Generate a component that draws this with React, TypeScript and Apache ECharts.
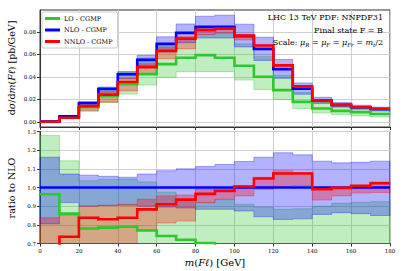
import React, { useEffect, useRef } from 'react';
import * as echarts from 'echarts';

// bin edges of m(Fl) in GeV
const binEdges = [0, 10, 20, 30, 40, 50, 60, 70, 80, 90, 100, 110, 120, 130, 140, 150, 160, 170, 180];
// NLO central cross section, pb/GeV
const nloXsec = [0.0003, 0.0051, 0.0168, 0.0293, 0.0424, 0.0552, 0.0694, 0.0792, 0.0845, 0.0845, 0.0763, 0.0648, 0.0468, 0.0295, 0.0192, 0.0152, 0.0131, 0.0115];
// ratios to NLO central
const loRatio = [0.964, 0.86, 0.78, 0.785, 0.79, 0.77, 0.74, 0.72, 0.703, 0.675, 0.655, 0.62, 0.605, 0.605, 0.625, 0.645, 0.665, 0.615];
const nnloRatio = [0.62, 0.736, 0.838, 0.83, 0.838, 0.883, 0.91, 0.935, 0.966, 0.982, 1.005, 1.048, 1.075, 1.075, 0.991, 0.998, 1.009, 1.023];
// scale-uncertainty bands, as ratios to NLO central
const loBandHi = [1.279, 1.143, 1.036, 1.043, 1.045, 1.03, 0.975, 0.93, 0.92, 0.935, 0.91, 0.895, 0.883, 0.886, 0.9, 0.915, 0.92, 0.924];
const loBandLo = [0.6, 0.58, 0.56, 0.59, 0.585, 0.594, 0.571, 0.564, 0.529, 0.529, 0.488, 0.446, 0.427, 0.406, 0.42, 0.44, 0.41, 0.39];
const nloBandHi = [1.162, 1.072, 1.066, 1.06, 1.055, 1.072, 1.09, 1.1, 1.112, 1.123, 1.139, 1.162, 1.186, 1.175, 1.141, 1.132, 1.135, 1.141];
const nloBandLo = [0.805, 0.919, 0.9, 0.904, 0.905, 0.9, 0.895, 0.89, 0.883, 0.883, 0.874, 0.843, 0.829, 0.832, 0.856, 0.865, 0.86, 0.85];
const nnloBandHi = [0.838, 0.85, 0.9, 0.905, 0.91, 0.937, 0.955, 0.96, 0.99, 1.0, 1.01, 1.055, 1.09, 1.08, 0.995, 1.0, 1.01, 1.03];
const nnloBandLo = [0.5, 0.6, 0.6, 0.6, 0.65, 0.775, 0.81, 0.82, 0.919, 0.937, 0.955, 0.99, 1.005, 1.01, 0.933, 0.955, 0.97, 0.973];

const seriesNames = ['LO - CGMP', 'NLO - CGMP', 'NNLO - CGMP'];
const xTicks = { min: 0, max: 180, interval: 20 };
const topY = { min: -0.0045, max: 0.0995 };
const topYTicks = [0, 0.02, 0.04, 0.06, 0.08];
const ratioY = { min: 0.7, max: 1.3, interval: 0.1 };

const GREEN = '#2ec82e';
const BLUE = '#0000ff';
const RED = '#ff0000';
const SERIF = '"DejaVu Serif", "Liberation Serif", serif';

const nloRatio = nloXsec.map((v) => v / v);
const toAbs = (r: number[]) => r.map((v, i) => v * nloXsec[i]);

const stepData = (vals: number[]) =>
  binEdges.map((x, i) => [x, vals[Math.min(i, vals.length - 1)]]);

function bandSeries(lo: number[], hi: number[], fill: string, edge: string, axis: number, yMin: number, yMax: number) {
  const clamp = (v: number) => Math.max(yMin, Math.min(yMax, v));
  return {
    type: 'custom',
    xAxisIndex: axis,
    yAxisIndex: axis,
    silent: true,
    z: 1,
    data: [[0, 0]],
    renderItem: (_params: any, api: any) => {
      const top: number[][] = [];
      const bot: number[][] = [];
      for (let i = 0; i < lo.length; i++) {
        const h = clamp(hi[i]);
        const l = clamp(lo[i]);
        top.push(api.coord([binEdges[i], h]), api.coord([binEdges[i + 1], h]));
        bot.push(api.coord([binEdges[i], l]), api.coord([binEdges[i + 1], l]));
      }
      return {
        type: 'polygon',
        shape: { points: top.concat(bot.reverse()) },
        style: { fill, stroke: edge, lineWidth: 0.8 },
      };
    },
  };
}

function lineSeries(name: string, vals: number[], color: string, axis: number, z: number) {
  return {
    type: 'line',
    name,
    xAxisIndex: axis,
    yAxisIndex: axis,
    step: 'end',
    data: stepData(vals),
    showSymbol: false,
    symbol: 'none',
    clip: true,
    z,
    lineStyle: { color, width: 2.6, join: 'miter' },
    itemStyle: { color },
  };
}

const gridLine = { show: true, lineStyle: { color: '#cfcfcf', width: 1 } };

export default function App() {
  const ref = useRef<HTMLDivElement>(null);
  useEffect(() => {
    if (!ref.current) return;
    const chart = echarts.init(ref.current, undefined, { renderer: 'svg' });
    const option: any = {
      animation: false,
      backgroundColor: '#ffffff',
      grid: [
        { left: 40, width: 350, top: 10, height: 117, show: true, borderColor: '#333', borderWidth: 1, backgroundColor: 'transparent' },
        { left: 40, width: 350, top: 131.5, height: 112, show: true, borderColor: '#333', borderWidth: 1, backgroundColor: 'transparent' },
      ],
      xAxis: [0, 1].map((g) => ({
        type: 'value',
        gridIndex: g,
        min: xTicks.min,
        max: xTicks.max,
        interval: xTicks.interval,
        axisLine: { show: true, onZero: false, lineStyle: { color: '#333', width: 1 } },
        axisTick: { show: true, inside: false, length: 3, lineStyle: { color: '#333' } },
        axisLabel: {
          show: g === 1,
          fontFamily: SERIF,
          fontSize: 5.5,
          color: '#000',
          margin: 4,
        },
        splitLine: gridLine,
      })),
      yAxis: [
        {
          type: 'value',
          gridIndex: 0,
          min: topY.min,
          max: topY.max,
          axisLine: { show: true, lineStyle: { color: '#333' } },
          axisTick: { show: true, length: 3, lineStyle: { color: '#333' }, customValues: topYTicks },
          axisLabel: {
            customValues: topYTicks,
            formatter: (v: number) => v.toFixed(2),
            fontFamily: SERIF,
            fontSize: 5.5,
            color: '#000',
            margin: 4,
          },
          splitLine: gridLine,
        },
        {
          type: 'value',
          gridIndex: 1,
          min: ratioY.min,
          max: ratioY.max,
          interval: ratioY.interval,
          axisLine: { show: true, lineStyle: { color: '#333' } },
          axisTick: { show: true, length: 3, lineStyle: { color: '#333' } },
          axisLabel: { formatter: (v: number) => v.toFixed(1), fontFamily: SERIF, fontSize: 5.5, color: '#000', margin: 4 },
          splitLine: gridLine,
        },
      ],
      legend: {
        data: seriesNames.map((n) => ({ name: n, icon: 'rect' })),
        orient: 'vertical',
        left: 42,
        top: 12,
        itemWidth: 15,
        itemHeight: 3,
        itemGap: 4.5,
        padding: [3, 5, 3, 3],
        backgroundColor: 'rgba(255,255,255,0.85)',
        borderColor: '#cccccc',
        borderWidth: 1,
        borderRadius: 2,
        textStyle: { fontFamily: SERIF, fontSize: 6.5, color: '#000', padding: [0, 0, 0, -1] },
        selectedMode: false,
        z: 20,
      },
      series: [
        bandSeries(toAbs(loBandLo), toAbs(loBandHi), 'rgba(46,200,46,0.3)', 'rgba(46,200,46,0.45)', 0, topY.min, topY.max),
        bandSeries(toAbs(nloBandLo), toAbs(nloBandHi), 'rgba(0,0,255,0.3)', 'rgba(0,0,255,0.4)', 0, topY.min, topY.max),
        bandSeries(toAbs(nnloBandLo), toAbs(nnloBandHi), 'rgba(255,0,0,0.3)', 'rgba(255,0,0,0.4)', 0, topY.min, topY.max),
        lineSeries(seriesNames[0], toAbs(loRatio), GREEN, 0, 2),
        lineSeries(seriesNames[1], nloXsec, BLUE, 0, 3),
        lineSeries(seriesNames[2], toAbs(nnloRatio), RED, 0, 4),
        bandSeries(loBandLo, loBandHi, 'rgba(46,200,46,0.3)', 'rgba(46,200,46,0.45)', 1, ratioY.min, ratioY.max),
        bandSeries(nloBandLo, nloBandHi, 'rgba(0,0,255,0.3)', 'rgba(0,0,255,0.4)', 1, ratioY.min, ratioY.max),
        bandSeries(nnloBandLo, nnloBandHi, 'rgba(255,0,0,0.3)', 'rgba(255,0,0,0.4)', 1, ratioY.min, ratioY.max),
        lineSeries(seriesNames[0], loRatio, GREEN, 1, 2),
        lineSeries(seriesNames[1], nloRatio, BLUE, 1, 3),
        lineSeries(seriesNames[2], nnloRatio, RED, 1, 4),
      ],
      graphic: [
        {
          type: 'text',
          right: 24,
          top: 13,
          z: 30,
          style: { text: 'LHC 13 TeV PDF: NNPDF31', fontFamily: SERIF, fontSize: 8, fill: '#000', textAlign: 'right' },
        },
        {
          type: 'text',
          right: 24,
          top: 26.5,
          z: 30,
          style: { text: 'Final state F = B', fontFamily: SERIF, fontSize: 8, fill: '#000', textAlign: 'right' },
        },
        {
          type: 'text',
          right: 24,
          top: 38,
          z: 30,
          style: {
            text: '{n|Scale: }{i|μ}{s|R}{n| = }{i|μ}{s|F}{n| = }{i|μ}{s|Fr}{n| = }{i|m}{s|t}{n|/2}',
            fill: '#000',
            rich: {
              n: { fontFamily: SERIF, fontSize: 8, lineHeight: 11 },
              i: { fontFamily: SERIF, fontSize: 8, fontStyle: 'italic', lineHeight: 11 },
              s: { fontFamily: SERIF, fontSize: 5.5, fontStyle: 'italic', verticalAlign: 'bottom', lineHeight: 8 },
            },
          },
        },
        {
          type: 'text',
          x: 11,
          y: 68,
          rotation: Math.PI / 2,
          style: {
            text: '{n|d}{i|σ}{n|/d}{i|m}{n|(}{i|Fℓ}{n|) [pb/GeV]}',
            align: 'center',
            verticalAlign: 'middle',
            fill: '#000',
            rich: {
              n: { fontFamily: SERIF, fontSize: 9.5 },
              i: { fontFamily: SERIF, fontSize: 9.5, fontStyle: 'italic' },
            },
          },
        },
        {
          type: 'text',
          x: 11,
          y: 188,
          rotation: Math.PI / 2,
          style: {
            text: 'ratio to NLO',
            align: 'center',
            verticalAlign: 'middle',
            fontFamily: SERIF,
            fontSize: 9.5,
            fill: '#000',
          },
        },
        {
          type: 'text',
          x: 215,
          y: 262,
          style: {
            text: '{i|m}{n|(}{i|Fℓ}{n|) [GeV]}',
            align: 'center',
            verticalAlign: 'middle',
            fill: '#000',
            rich: {
              n: { fontFamily: SERIF, fontSize: 10 },
              i: { fontFamily: SERIF, fontSize: 10, fontStyle: 'italic' },
            },
          },
        },
      ],
    };
    chart.setOption(option);
    return () => chart.dispose();
  }, []);
  return (
    <div
      ref={ref}
      style={{ position: 'fixed', left: 0, top: 0, width: 407, height: 271, background: '#fff' }}
    />
  );
}
